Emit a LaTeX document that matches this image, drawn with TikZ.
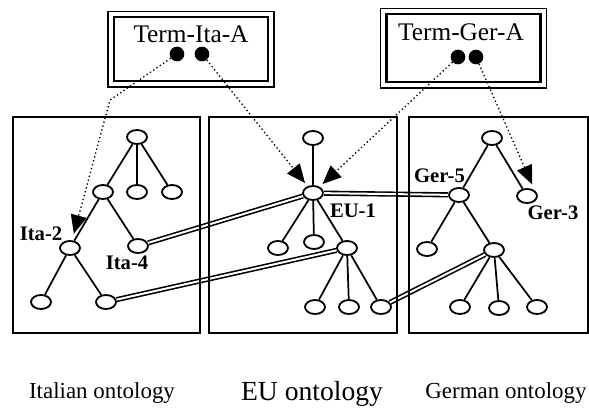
\documentclass[tikz,border=0pt]{standalone}
\usepackage{fontspec}
\setmainfont{Liberation Serif}
\usetikzlibrary{shapes.geometric,arrows.meta,calc}

\tikzset{
  concept/.style={draw, ellipse, line width=1.35pt, fill=white, minimum width=15pt, minimum height=10.5pt, inner sep=0pt},
  seed/.style={circle, fill=black, minimum size=11pt, inner sep=0pt},
  termbox/.style={draw, line width=2pt, minimum width=115.5pt, minimum height=48pt},
  outerline/.style={line width=1.2pt},
  frame/.style={line width=1.5pt},
  edge/.style={line width=1.3pt},
  link/.style={double, double distance=1.5pt, line width=1.2pt},
  mapping/.style={dotted, line width=1pt, -{Triangle[length=14pt,width=12pt]}, shorten >=3pt},
  termtext/.style={font=\fontsize{19}{22}\selectfont, anchor=base, inner sep=0pt},
  tag/.style={font=\fontsize{15.5}{18}\selectfont\bfseries, anchor=base, inner sep=0pt},
  caption/.style={font=\fontsize{17.2}{20}\selectfont, anchor=base, inner sep=0pt}
}

\begin{document}
\begin{tikzpicture}[x=0.75pt,y=-0.75pt]
	\useasboundingbox (0,0) rectangle (589,408);

	% the term boxes
	\node[termbox] (itabox) at (191,49) {};
	\node[termbox, minimum height=51pt] (gerbox) at (463.5,48) {};
	\draw[outerline] ($(itabox.north west)+(-4.5,-4)$) rectangle ($(itabox.south east)+(4.5,4.5)$);
	\draw[outerline] ($(gerbox.north west)+(-4.5,-4)$) rectangle ($(gerbox.south east)+(4.5,4.5)$);

	\node[termtext] (itaterm) at (191,42) {Term-Ita-A};
	\node[termtext] (gerterm) at (461,40) {Term-Ger-A};

	\node[seed] (itaseedA) at (177,54) {};
	\node[seed] (itaseedB) at (202,54) {};
	\node[seed] (gerseedA) at (458,57) {};
	\node[seed] (gerseedB) at (476,57) {};

	% the italian ontology
	\node[concept] (itaroot) at (137,137) {};
	\node[concept] (itaA) at (103,192) {};
	\node[concept] (itaB) at (137,192) {};
	\node[concept] (itaC) at (172,192) {};
	\node[concept] (ita2) at (70,248) {};
	\node[concept] (ita4) at (138,246) {};
	\node[concept] (itaD) at (41,302) {};
	\node[concept] (itaE) at (106,302) {};

	% the eu ontology
	\node[concept] (eutop) at (313,138) {};
	\node[concept] (eu1) at (313,193) {};
	\node[concept] (euA) at (278,248) {};
	\node[concept] (euB) at (314,242) {};
	\node[concept] (euC) at (347,248) {};
	\node[concept] (euD) at (315,307) {};
	\node[concept] (euE) at (349,307) {};
	\node[concept] (euF) at (381,307) {};

	% the german ontology
	\node[concept] (gerroot) at (492,138) {};
	\node[concept] (ger5) at (459,195) {};
	\node[concept] (ger3) at (527,196) {};
	\node[concept] (gerA) at (427,249) {};
	\node[concept] (gerB) at (494,250) {};
	\node[concept] (gerC) at (460,307) {};
	\node[concept] (gerD) at (499,308) {};
	\node[concept] (gerE) at (537,307) {};

	% the links between ontologies
	\draw[link] (ita4) -- (eu1);
	\draw[link] (itaE) -- (euC);
	\draw[link] (eu1) -- (ger5);
	\draw[link] (euF) -- (gerB);

	% the frames
	\draw[frame] (13,117) rectangle (200,333);
	\draw[frame] (209,117) rectangle (397,333);
	\draw[frame] (409,117) rectangle (587.5,333);

	% the tree edges
	\draw[edge] (itaroot) -- (itaA);
	\draw[edge] (itaroot) -- (itaB);
	\draw[edge] (itaroot) -- (itaC);
	\draw[edge] (itaA) -- (ita2);
	\draw[edge] (itaA) -- (ita4);
	\draw[edge] (ita2) -- (itaD);
	\draw[edge] (ita2) -- (itaE);

	\draw[edge] (eutop) -- (eu1);
	\draw[edge] (eu1) -- (euA);
	\draw[edge] (eu1) -- (euB);
	\draw[edge] (eu1) -- (euC);
	\draw[edge] (euC) -- (euD);
	\draw[edge] (euC) -- (euE);
	\draw[edge] (euC) -- (euF);

	\draw[edge] (gerroot) -- (ger5);
	\draw[edge] (gerroot) -- (ger3);
	\draw[edge] (ger5) -- (gerA);
	\draw[edge] (ger5) -- (gerB);
	\draw[edge] (gerB) -- (gerC);
	\draw[edge] (gerB) -- (gerD);
	\draw[edge] (gerB) -- (gerE);

	% the labels
	\node[tag] (ita2tag) at (41,240) {Ita-2};
	\node[tag] (ita4tag) at (127,269) {Ita-4};
	\node[tag] (eu1tag) at (353,217) {EU-1};
	\node[tag] (ger5tag) at (439.5,182) {Ger-5};
	\node[tag] (ger3tag) at (553,219) {Ger-3};

	% the mappings
	\coordinate (itabend) at (110,100);
	\draw[mapping, shorten >=5pt] (itaseedA) -- (itabend) -- (ita2);
	\draw[mapping] (itaseedB) -- (eu1);
	\draw[mapping] (gerseedA) -- (eu1);
	\draw[mapping, shorten >=5pt] (gerseedB) -- (ger3.north east);

	% the captions
	\node[caption] (itacap) at (102,398) {Italian ontology};
	\node[caption, font=\fontsize{20.7}{24}\selectfont] (eucap) at (312,400) {EU ontology};
	\node[caption] (gercap) at (506,398) {German ontology};

\end{tikzpicture}
\end{document}
